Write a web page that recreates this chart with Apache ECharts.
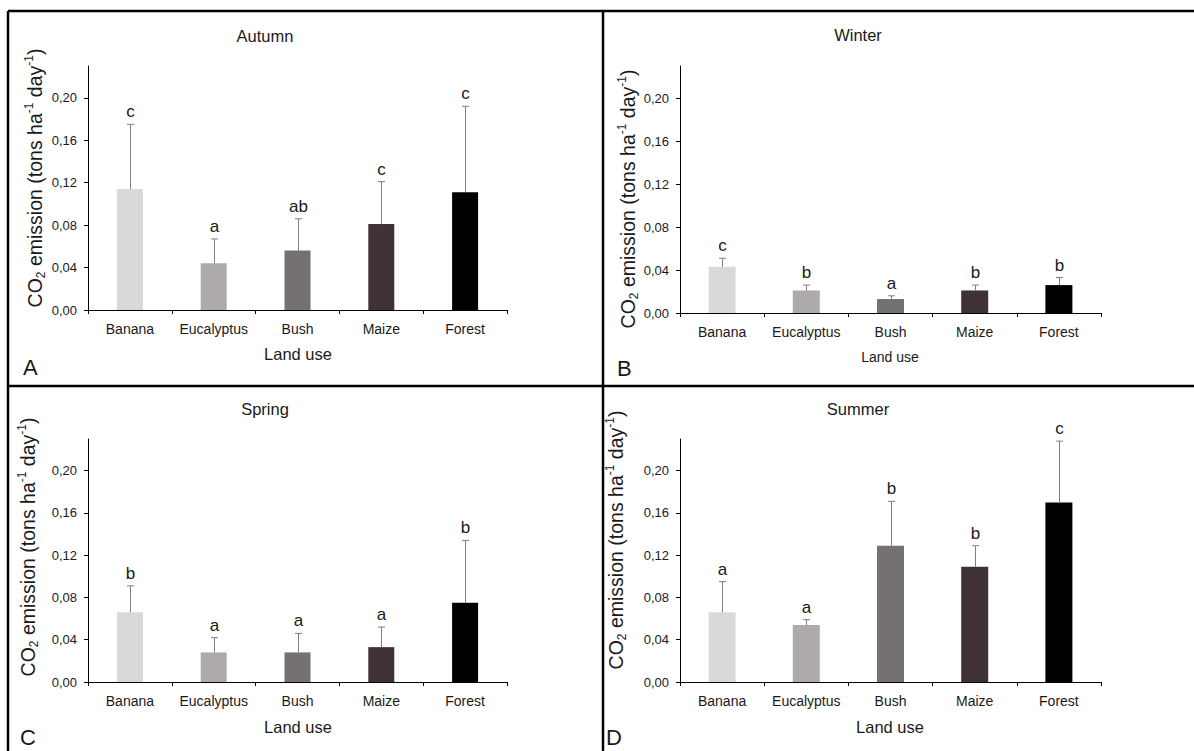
<!DOCTYPE html>
<html><head><meta charset="utf-8">
<script src="https://cdn.jsdelivr.net/npm/echarts@6/dist/echarts.min.js"></script>
<style>html,body{margin:0;padding:0;background:#fff}#c{width:1194px;height:751px}</style>
</head><body><div id="c"></div>
<script>
const categories = ['Banana', 'Eucalyptus', 'Bush', 'Maize', 'Forest'];

const autumnMean = [0.114, 0.044, 0.056, 0.081, 0.111];
const autumnSD = [0.061, 0.023, 0.030, 0.040, 0.081];
const autumnLetters = ['c', 'a', 'ab', 'c', 'c'];

const winterMean = [0.043, 0.021, 0.013, 0.021, 0.026];
const winterSD = [0.008, 0.005, 0.003, 0.005, 0.007];
const winterLetters = ['c', 'b', 'a', 'b', 'b'];

const springMean = [0.066, 0.028, 0.028, 0.033, 0.075];
const springSD = [0.025, 0.014, 0.018, 0.019, 0.059];
const springLetters = ['b', 'a', 'a', 'a', 'b'];

const summerMean = [0.066, 0.054, 0.129, 0.109, 0.170];
const summerSD = [0.029, 0.005, 0.042, 0.020, 0.058];
const summerLetters = ['a', 'a', 'b', 'b', 'c'];

const yTicks = [0, 0.04, 0.08, 0.12, 0.16, 0.20];
const yTickLabels = ['0,00', '0,04', '0,08', '0,12', '0,16', '0,20'];
const yMax = 0.23;

const barColors = ['#d9d9d9', '#aeaaaa', '#767171', '#403137', '#000000'];
const FONT = '"Liberation Sans", Arial, sans-serif';

const panels = [
  {title: 'Autumn', tag: 'A', mean: autumnMean, sd: autumnSD, letters: autumnLetters,
   grid: {left: 88, top: 66, width: 419, height: 244}, barWidth: 26,
   titlePos: [265, 36], namePos: [35, 178], xNamePos: [298, 354], xNameSize: 16.5, tagPos: [23, 367]},
  {title: 'Winter', tag: 'B', mean: winterMean, sd: winterSD, letters: winterLetters,
   grid: {left: 680, top: 66, width: 421, height: 247}, barWidth: 27,
   titlePos: [858, 35], namePos: [628, 199], xNamePos: [890, 357], xNameSize: 14, tagPos: [617, 368]},
  {title: 'Spring', tag: 'C', mean: springMean, sd: springSD, letters: springLetters,
   grid: {left: 88, top: 439, width: 419, height: 243}, barWidth: 26,
   titlePos: [265, 409], namePos: [28, 547], xNamePos: [298, 727], xNameSize: 16.5, tagPos: [20, 737]},
  {title: 'Summer', tag: 'D', mean: summerMean, sd: summerSD, letters: summerLetters,
   grid: {left: 680, top: 439, width: 421, height: 243}, barWidth: 27,
   titlePos: [858, 409], namePos: [616, 540], xNamePos: [890, 727], xNameSize: 16.5, tagPos: [606, 737]}
];

const grids = [], xAxes = [], yAxes = [], series = [], graphics = [];

function tickLabel(v) {
  const k = yTicks.findIndex(t => Math.abs(t - v) < 1e-9);
  return k >= 0 ? yTickLabels[k] : '';
}

panels.forEach((p, gi) => {
  grids.push(Object.assign({containLabel: false}, p.grid));
  xAxes.push({
    type: 'category', gridIndex: gi, data: categories,
    axisLine: {lineStyle: {color: '#000', width: 1}},
    axisTick: {show: true, length: 4, lineStyle: {color: '#000'}},
    axisLabel: {interval: 0, fontSize: 14, margin: 12, color: '#1a1a1a', fontFamily: FONT},
    splitLine: {show: false}
  });
  yAxes.push({
    type: 'value', gridIndex: gi, min: 0, max: yMax,
    axisLine: {show: true, lineStyle: {color: '#000', width: 1}},
    axisTick: {show: true, length: 4, customValues: yTicks, lineStyle: {color: '#000'}},
    axisLabel: {customValues: yTicks, formatter: tickLabel, fontSize: 13, margin: 11, color: '#1a1a1a', fontFamily: FONT},
    splitLine: {show: false}
  });
  series.push({
    type: 'bar', xAxisIndex: gi, yAxisIndex: gi, barWidth: p.barWidth, z: 2,
    data: p.mean.map((v, i) => ({value: v, itemStyle: {color: barColors[i]}})),
    silent: true
  });
  series.push({
    type: 'custom', xAxisIndex: gi, yAxisIndex: gi, z: 3, silent: true,
    encode: {x: 0, y: 1},
    data: categories.map((c, i) => [i, p.mean[i], p.sd[i]]),
    renderItem: (params, api) => {
      const i = api.value(0), m = api.value(1), s = api.value(2);
      const p0 = api.coord([i, m]);
      const p1 = api.coord([i, m + s]);
      const x = Math.round(p0[0]) + 0.5;
      return {
        type: 'group', children: [
          {type: 'line', shape: {x1: x, y1: p0[1], x2: x, y2: p1[1]}, style: {stroke: '#7f7f7f', lineWidth: 1}},
          {type: 'line', shape: {x1: x - 3.5, y1: p1[1], x2: x + 3.5, y2: p1[1]}, style: {stroke: '#7f7f7f', lineWidth: 1}},
          {type: 'text', x: x, y: p1[1] - 4,
           style: {text: p.letters[params.dataIndex], align: 'center', verticalAlign: 'bottom',
                   fontSize: 17, fontFamily: FONT, fill: '#1a1a1a'}}
        ]
      };
    }
  });
  graphics.push({type: 'text', x: p.titlePos[0], y: p.titlePos[1],
    style: {text: p.title, align: 'center', verticalAlign: 'middle', fontSize: 16.5, fontFamily: FONT, fill: '#1a1a1a'}});
  graphics.push({type: 'text', x: p.xNamePos[0], y: p.xNamePos[1],
    style: {text: 'Land use', align: 'center', verticalAlign: 'middle', fontSize: p.xNameSize, fontFamily: FONT, fill: '#1a1a1a'}});
  graphics.push({type: 'text', x: p.tagPos[0], y: p.tagPos[1],
    style: {text: p.tag, align: 'left', verticalAlign: 'middle', fontSize: 22, fontFamily: FONT, fill: '#1a1a1a'}});
  graphics.push({type: 'text', x: p.namePos[0], y: p.namePos[1], rotation: Math.PI / 2,
    style: {
      text: 'CO{sub|2} emission (tons ha{sup|-1} day{sup|-1})',
      align: 'center', verticalAlign: 'middle', fontSize: 19.5, fontFamily: FONT, fill: '#1a1a1a', lineHeight: 24,
      rich: {
        sub: {fontSize: 12, fontFamily: FONT, fill: '#1a1a1a', verticalAlign: 'bottom', lineHeight: 12},
        sup: {fontSize: 12, fontFamily: FONT, fill: '#1a1a1a', verticalAlign: 'top', lineHeight: 12}
      }
    }});
});

// frame lines
const frame = [
  [8, 11, 1194, 11],
  [8, 11, 8, 751],
  [603, 11, 603, 751],
  [8, 386, 1194, 386]
];
frame.forEach(f => graphics.push({type: 'line', shape: {x1: f[0], y1: f[1], x2: f[2], y2: f[3]},
  style: {stroke: '#000', lineWidth: 2.5}, z: 10}));

const chart = echarts.init(document.getElementById('c'), null, {renderer: 'svg'});
chart.setOption({
  backgroundColor: '#fff',
  animation: false,
  textStyle: {fontFamily: FONT},
  grid: grids, xAxis: xAxes, yAxis: yAxes, series: series,
  graphic: {elements: graphics}
});
</script></body></html>
